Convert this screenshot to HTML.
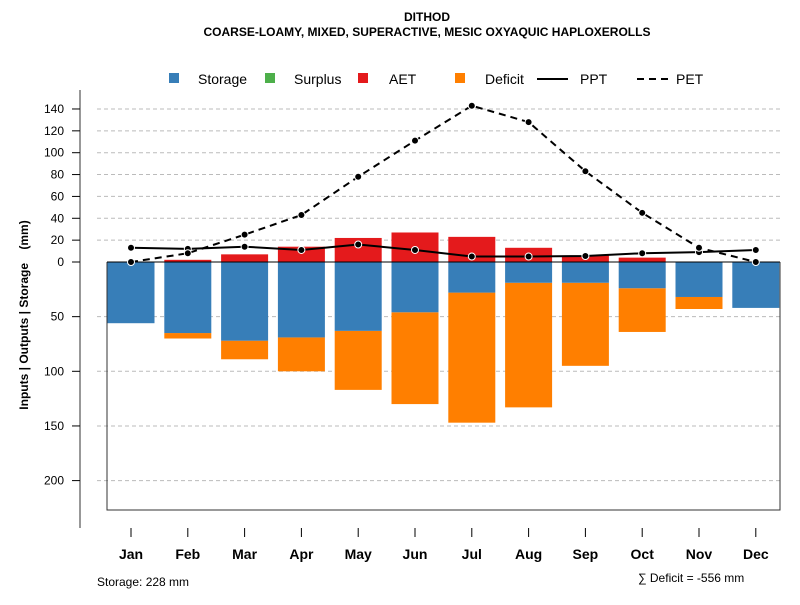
<!DOCTYPE html>
<html><head><meta charset="utf-8"><style>
body{margin:0;background:#fff;}
svg{font-family:"Liberation Sans",sans-serif;}
</style></head><body>
<svg id="chart" width="800" height="600" viewBox="0 0 800 600">
<text x="427" y="21" text-anchor="middle" font-size="12" font-weight="bold">DITHOD</text>
<text x="427" y="36" text-anchor="middle" font-size="12" font-weight="bold">COARSE-LOAMY, MIXED, SUPERACTIVE, MESIC OXYAQUIC HAPLOXEROLLS</text>
<g id="grid"></g>
<g id="bars"></g>
<g id="lines"></g>
<g id="axes"></g>
<g id="legend" font-size="14"></g>
<text x="97" y="586" font-size="12">Storage: 228 mm</text>
<text x="638" y="582" font-size="12">∑ Deficit = -556 mm</text>
<text transform="translate(28,315) rotate(-90)" text-anchor="middle" font-size="12" font-weight="bold" xml:space="preserve">Inputs | Outputs | Storage    (mm)</text>
</svg>
<script>
const months=["Jan","Feb","Mar","Apr","May","Jun","Jul","Aug","Sep","Oct","Nov","Dec"];
const storage=[56,65,72,69,63,46,28,19,19,24,32,42];
const deficitTotal=[56,70,89,100,117,130,147,133,95,64,43,42];
const aet=[0,2,7,14,22,27,23,13,6,4,0,0];
const surplus=[0,0,0,0,0,0,0,0,0,0,0,0];
const ppt=[13,12,14,11,16,11,5,5,5.5,8,9,11];
const pet=[0,8,25,43,78,111,143,128,83,45,13,0];
const upTicks=[0,20,40,60,80,100,120,140];
const downTicks=[50,100,150,200];
const NS="http://www.w3.org/2000/svg";
const y0=262,k=1.093;
const yv=v=>y0-v*k;
const xc=i=>131+i*56.8;
const bw=47;
function mk(tag,attrs,parent){const e=document.createElementNS(NS,tag);for(const a in attrs)e.setAttribute(a,attrs[a]);document.getElementById(parent).appendChild(e);return e;}
upTicks.concat(downTicks.map(v=>-v)).forEach(v=>{
 if(v===0)return;
 const l=mk("line",{x1:97,x2:782,y1:yv(v),y2:yv(v),stroke:"#bbb","stroke-dasharray":"4,3"},"grid");
 
 
});
const fr=mk("path",{d:`M107,${y0}V510H780V${y0}`,fill:"none",stroke:"#333"},"grid");


months.forEach((m,i)=>{
 const x=xc(i)-bw/2;
 if(deficitTotal[i]>storage[i]){
  const d=mk("rect",{x:x,y:yv(-storage[i]),width:bw,height:(deficitTotal[i]-storage[i])*k,fill:"#ff7f00"},"bars");
  
  
 }
 const s=mk("rect",{x:x,y:y0,width:bw,height:storage[i]*k,fill:"#377eb8"},"bars");
 
 
 if(aet[i]>0){
  const a=mk("rect",{x:x,y:yv(aet[i]),width:bw,height:aet[i]*k,fill:"#e41a1c"},"bars");
  
  
 }
});
const zl=mk("line",{x1:107,x2:780,y1:y0,y2:y0,stroke:"#000"},"bars");


function series(arr,name,dash){
 const p=mk("polyline",{points:arr.map((v,i)=>xc(i)+","+yv(v)).join(" "),fill:"none",stroke:"#000","stroke-width":2,"stroke-dasharray":dash},"lines");
 
 
 arr.forEach((v,i)=>{
  const c=mk("circle",{cx:xc(i),cy:yv(v),r:3.5,fill:"#000",stroke:"#fff","stroke-width":1},"lines");
  
  
 });
}
series(ppt,"ppt","none");
series(pet,"pet","7,5");
const ya=mk("line",{x1:80,x2:80,y1:90,y2:528,stroke:"#777","stroke-width":1.5},"axes");


function ytick(v,yy){
 const t=mk("text",{x:64,y:yy+4,"text-anchor":"end","font-size":12},"axes");t.textContent=v;
 
 
 mk("line",{x1:72,x2:80,y1:yy,y2:yy,stroke:"#000"},"axes");
}
upTicks.forEach(v=>ytick(v,yv(v)));
downTicks.forEach(v=>ytick(v,yv(-v)));
months.forEach((m,i)=>{
 mk("line",{x1:xc(i),x2:xc(i),y1:528,y2:537,stroke:"#000"},"axes");
 const t=mk("text",{x:xc(i),y:559,"text-anchor":"middle","font-size":14,"font-weight":"bold"},"axes");t.textContent=m;
 
 
});
const leg=[["Storage",169,"#377eb8",198],["Surplus",265,"#4daf4a",294],["AET",358,"#e41a1c",389],["Deficit",455,"#ff7f00",485]];
leg.forEach(l=>{
 const r=mk("rect",{x:l[1],y:73,width:10,height:10,fill:l[2]},"legend");
 
 
 const t=mk("text",{x:l[3],y:84},"legend");t.textContent=l[0];
 
 
});
mk("line",{x1:537,x2:568,y1:79,y2:79,stroke:"#000","stroke-width":2},"legend");
const t1=mk("text",{x:580,y:84},"legend");t1.textContent="PPT";


mk("line",{x1:637,x2:668,y1:79,y2:79,stroke:"#000","stroke-width":2,"stroke-dasharray":"7,5"},"legend");
const t2=mk("text",{x:676,y:84},"legend");t2.textContent="PET";


</script>
</body></html>
